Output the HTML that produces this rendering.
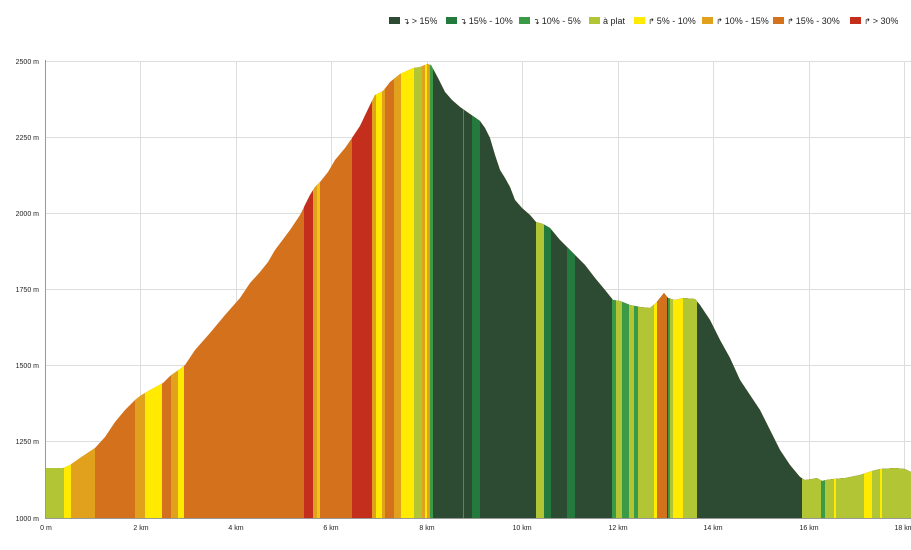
<!DOCTYPE html>
<html><head><meta charset="utf-8"><style>
body{margin:0;background:#fff;width:911px;height:550px;overflow:hidden;font-family:"Liberation Sans",sans-serif}
.leg span{position:absolute;top:15px;height:12px;line-height:12px;font-size:9px;color:#222;white-space:nowrap;overflow:hidden}
.leg i{display:inline-block;width:11px;height:7px;margin-right:3px;vertical-align:0px}
.leg b{font-weight:normal;font-family:"DejaVu Sans",sans-serif;font-size:8px;margin-right:2px}
</style></head><body>
<div class="leg">
<span style="left:389px"><i style="background:#2d4a33"></i><b>↴</b>&gt; 15%</span>
<span style="left:446px"><i style="background:#237a3c"></i><b>↴</b>15% - 10%</span>
<span style="left:519px"><i style="background:#3a9a45"></i><b>↴</b>10% - 5%</span>
<span style="left:589px"><i style="background:#b2c534"></i>à plat</span>
<span style="left:634px"><i style="background:#ffea00"></i><b>↱</b>5% - 10%</span>
<span style="left:702px"><i style="background:#e2a11c"></i><b>↱</b>10% - 15%</span>
<span style="left:773px"><i style="background:#d4711d"></i><b>↱</b>15% - 30%</span>
<span style="left:850px"><i style="background:#c42f1d"></i><b>↱</b>&gt; 30%</span>
</div>
<svg width="911" height="550" style="position:absolute;left:0;top:0" font-family="Liberation Sans, sans-serif" font-size="7" fill="#222">
<defs><clipPath id="c"><polygon points="45,518 45,468 63,468 70,465 80,458 95,448 105,437 115,422 125,410 135,400 140,396 150,390 163,383 170,376 180,369 185,365 195,350 210,333 225,315 240,298 250,283 260,272 268,262 275,250 290,230 300,215 310,195 315,187 320,182 328,172 335,160 345,148 352,138 360,126 370,105 375,95 383,91 390,82 400,74 413,68 420,67 427,64 431,65 438,78 445,92 452,100 460,107 470,114 480,121 485,128 490,138 495,155 500,170 505,178 510,187 515,200 522,208 530,215 536,222 543,224 550,228 560,240 568,248 575,255 585,265 595,278 605,290 613,300 620,301 630,305 640,307 650,308 656,303 664,293 668,298 675,300 683,298 695,299 700,305 710,320 720,340 730,358 740,380 750,395 760,410 770,430 780,450 790,465 800,477 805,480 812,479 817,478 822,481 826,480 833,479 845,478 860,475 872,471 880,469 895,468 905,469 911,472 911,518"/></clipPath></defs>
<g stroke="#ddd" stroke-width="1">
<line x1="45" y1="61.5" x2="911" y2="61.5"/><line x1="45" y1="137.5" x2="911" y2="137.5"/><line x1="45" y1="213.5" x2="911" y2="213.5"/><line x1="45" y1="289.5" x2="911" y2="289.5"/><line x1="45" y1="365.5" x2="911" y2="365.5"/><line x1="45" y1="441.5" x2="911" y2="441.5"/>
<line x1="140.5" y1="61" x2="140.5" y2="518"/><line x1="236.5" y1="61" x2="236.5" y2="518"/><line x1="331.5" y1="61" x2="331.5" y2="518"/><line x1="427.5" y1="61" x2="427.5" y2="518"/><line x1="522.5" y1="61" x2="522.5" y2="518"/><line x1="618.5" y1="61" x2="618.5" y2="518"/><line x1="713.5" y1="61" x2="713.5" y2="518"/><line x1="809.5" y1="61" x2="809.5" y2="518"/><line x1="904.5" y1="61" x2="904.5" y2="518"/>
</g>
<g clip-path="url(#c)">
<rect x="45" y="60" width="866" height="460" fill="#d4711d"/>
<rect x="45" y="60" width="19" height="460" fill="#b2c534"/>
<rect x="64" y="60" width="7" height="460" fill="#ffea00"/>
<rect x="71" y="60" width="24" height="460" fill="#e2a11c"/>
<rect x="135" y="60" width="10" height="460" fill="#e2a11c"/>
<rect x="145" y="60" width="17" height="460" fill="#ffea00"/>
<rect x="171" y="60" width="7" height="460" fill="#e2a11c"/>
<rect x="178" y="60" width="6" height="460" fill="#ffea00"/>
<rect x="304" y="60" width="9" height="460" fill="#c42f1d"/>
<rect x="313" y="60" width="4" height="460" fill="#e2a11c"/>
<rect x="317" y="60" width="3" height="460" fill="#f2c21a"/>
<rect x="352" y="60" width="20" height="460" fill="#c42f1d"/>
<rect x="372" y="60" width="4" height="460" fill="#e2a11c"/>
<rect x="376" y="60" width="6" height="460" fill="#ffea00"/>
<rect x="382" y="60" width="3" height="460" fill="#e2a11c"/>
<rect x="394" y="60" width="7" height="460" fill="#e2a11c"/>
<rect x="401" y="60" width="13" height="460" fill="#ffea00"/>
<rect x="414" y="60" width="8" height="460" fill="#b2c534"/>
<rect x="422" y="60" width="3" height="460" fill="#e2a11c"/>
<rect x="425" y="60" width="2" height="460" fill="#ffea00"/>
<rect x="427" y="60" width="3" height="460" fill="#e2a11c"/>
<rect x="430" y="60" width="3" height="460" fill="#3a9a45"/>
<rect x="433" y="60" width="478" height="460" fill="#2d4a33"/>
<rect x="463" y="60" width="1" height="460" fill="#3a9a45"/>
<rect x="472" y="60" width="8" height="460" fill="#237a3c"/>
<rect x="536" y="60" width="8" height="460" fill="#b2c534"/>
<rect x="544" y="60" width="7" height="460" fill="#237a3c"/>
<rect x="567" y="60" width="8" height="460" fill="#237a3c"/>
<rect x="612" y="60" width="4" height="460" fill="#3a9a45"/>
<rect x="616" y="60" width="6" height="460" fill="#b2c534"/>
<rect x="622" y="60" width="7" height="460" fill="#3a9a45"/>
<rect x="629" y="60" width="5" height="460" fill="#b2c534"/>
<rect x="634" y="60" width="4" height="460" fill="#3a9a45"/>
<rect x="638" y="60" width="16" height="460" fill="#b2c534"/>
<rect x="654" y="60" width="3" height="460" fill="#ffea00"/>
<rect x="657" y="60" width="10" height="460" fill="#d4711d"/>
<rect x="668" y="60" width="2" height="460" fill="#3a9a45"/>
<rect x="670" y="60" width="3" height="460" fill="#b2c534"/>
<rect x="673" y="60" width="10" height="460" fill="#ffea00"/>
<rect x="683" y="60" width="14" height="460" fill="#b2c534"/>
<rect x="802" y="60" width="109" height="460" fill="#b2c534"/>
<rect x="821" y="60" width="4" height="460" fill="#3a9a45"/>
<rect x="834" y="60" width="2" height="460" fill="#ffea00"/>
<rect x="864" y="60" width="8" height="460" fill="#ffea00"/>
<rect x="880" y="60" width="2" height="460" fill="#ffea00"/>
</g>
<line x1="45.5" y1="60" x2="45.5" y2="518" stroke="#999"/>
<line x1="45" y1="518.5" x2="911" y2="518.5" stroke="#999"/>
<g text-anchor="end">
<text x="39" y="64">2500 m</text><text x="39" y="140">2250 m</text><text x="39" y="216">2000 m</text><text x="39" y="292">1750 m</text><text x="39" y="368">1500 m</text><text x="39" y="444">1250 m</text><text x="39" y="521">1000 m</text>
</g>
<g text-anchor="middle">
<text x="46" y="530">0 m</text><text x="141" y="530">2 km</text><text x="236" y="530">4 km</text><text x="331" y="530">6 km</text><text x="427" y="530">8 km</text><text x="522" y="530">10 km</text><text x="618" y="530">12 km</text><text x="713" y="530">14 km</text><text x="809" y="530">16 km</text><text x="904" y="530">18 km</text>
</g>
</svg>
</body></html>
